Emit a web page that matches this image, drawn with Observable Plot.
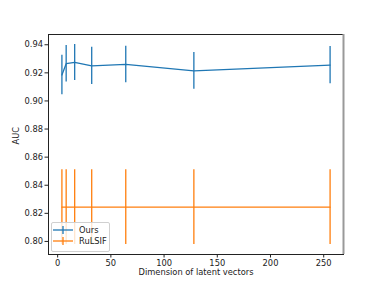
<!DOCTYPE html>
<html><head><meta charset="utf-8">
<script src="https://cdn.jsdelivr.net/npm/d3@7"></script>
<script src="https://cdn.jsdelivr.net/npm/@observablehq/plot@0.6"></script>
<style>
html,body{margin:0;padding:0;background:#fff;}
#wrap{position:relative;width:381px;height:286px;font-family:"DejaVu Sans",sans-serif;}
#legend{position:absolute;left:51px;top:222px;width:57px;height:28px;border:1px solid #d0d0d0;border-radius:2px;background:rgba(255,255,255,0.8);font-size:8.3px;color:#222;}
.item{position:absolute;left:1px;height:10px;display:flex;align-items:center;}
.item svg{margin-right:6px;}
</style></head>
<body><div id="wrap"><div id="legend"></div></div>
<script>
const dims = [4, 8, 16, 32, 64, 128, 256];
const oursMean = [0.9185, 0.9265, 0.9274, 0.925, 0.926, 0.9214, 0.9255];
const oursErr = [0.014, 0.013, 0.0128, 0.0133, 0.013, 0.0131, 0.0133];
const rulsifMean = [0.8244, 0.8244, 0.8244, 0.8244, 0.8244, 0.8244, 0.8244];
const rulsifErr = [0.0266, 0.0266, 0.0266, 0.0266, 0.0266, 0.0266, 0.0266];
const xTicks = [0, 50, 100, 150, 200, 250];
const yTicks = [0.80, 0.82, 0.84, 0.86, 0.88, 0.90, 0.92, 0.94];
const seriesNames = ["Ours", "RuLSIF"];
const colors = ["#1f77b4", "#ff7f0e"];

const ours = dims.map((d, i) => ({x: d, y: oursMean[i], e: oursErr[i]}));
const rul = dims.map((d, i) => ({x: d, y: rulsifMean[i], e: rulsifErr[i]}));
const xDom = [-8.6, 268.6];

const chart = Plot.plot({
  width: 381, height: 286,
  marginLeft: 48, marginRight: 38, marginTop: 34, marginBottom: 32,
  style: {fontFamily: "DejaVu Sans, sans-serif", fontSize: "8.3px", color: "#222", background: "transparent"},
  x: {domain: xDom},
  y: {domain: [0.7907, 0.9473]},
  marks: [
    Plot.line(ours, {x: "x", y: "y", stroke: colors[0], strokeWidth: 1.3}),
    Plot.ruleX(ours, {x: "x", y1: d => d.y - d.e, y2: d => d.y + d.e, stroke: colors[0], strokeWidth: 1.3}),
    Plot.line(rul, {x: "x", y: "y", stroke: colors[1], strokeWidth: 1.3}),
    Plot.ruleX(rul, {x: "x", y1: d => d.y - d.e, y2: d => d.y + d.e, stroke: colors[1], strokeWidth: 1.3}),
    Plot.frame({stroke: "#222", strokeWidth: 1}),
    Plot.ruleX([xDom[1]], {stroke: "#999", strokeWidth: 2}),
    Plot.axisX({ticks: xTicks, tickSize: 3.5, tickPadding: 2, label: null, fill: "#222"}),
    Plot.axisY({ticks: yTicks, tickSize: 3.5, tickPadding: 2, tickFormat: d => d.toFixed(2), label: null, fill: "#222"}),
    Plot.text(["AUC"], {frameAnchor: "left", dx: -32, rotate: -90, fontSize: 8.3, fill: "#222"}),
    Plot.text(["Dimension of latent vectors"], {frameAnchor: "bottom", dy: 20, fontSize: 8.3, fill: "#222"})
  ]
});
const wrap = document.getElementById("wrap");
chart.style.position = "absolute"; chart.style.left = "0"; chart.style.top = "0";
wrap.insertBefore(chart, wrap.firstChild);

const leg = document.getElementById("legend");
seriesNames.forEach((n, i) => {
  const it = document.createElement("div");
  it.className = "item";
  it.style.top = (2 + i * 11) + "px";
  it.innerHTML = `<svg width="20" height="10"><line x1="0" y1="5" x2="20" y2="5" stroke="${colors[i]}" stroke-width="1.3"/><line x1="10" y1="1" x2="10" y2="9" stroke="${colors[i]}" stroke-width="1.3"/></svg><span>${n}</span>`;
  leg.appendChild(it);
});
</script></body></html>
